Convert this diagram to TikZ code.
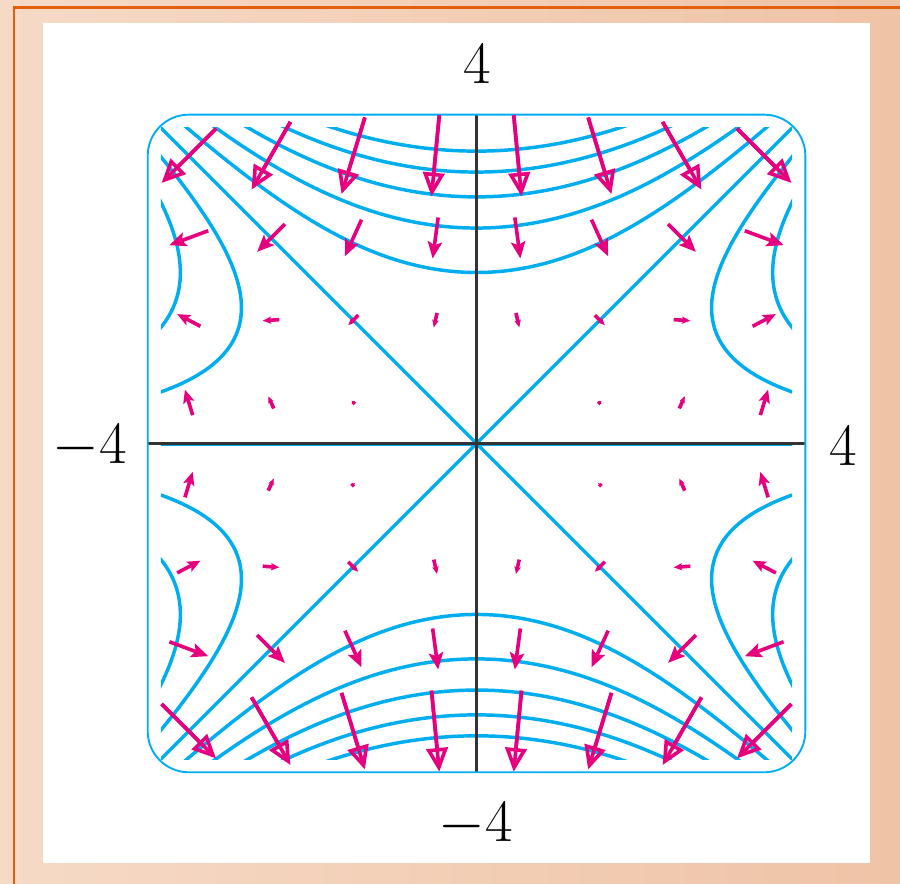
\documentclass[tikz,border=0pt]{standalone}
\usetikzlibrary{arrows.meta}
\definecolor{cy}{HTML}{00AEEF}
\definecolor{mg}{HTML}{E6007E}
\definecolor{org}{HTML}{E2600C}
\definecolor{peachL}{HTML}{F6DAC6}
\definecolor{peachR}{HTML}{EFC3A6}
\definecolor{axisgray}{HTML}{333333}
\tikzset{
  curve/.style={cy, line width=1.2pt},
  frame/.style={cy, line width=0.65pt, rounded corners=0.5cm},
  axisline/.style={axisgray, line width=0.75pt},
  vec/.style={mg, line width=1.25pt},
  lab/.style={inner sep=0pt, font=\fontsize{20}{24}\selectfont},
}
\begin{document}
\begin{tikzpicture}
\useasboundingbox (-5.797,-5.359) rectangle (5.152,5.395);
\shade[left color=peachL, right color=peachR] (-5.797,-5.359) rectangle (5.152,5.395);
\draw[org, line width=0.75pt] (-5.626,-5.4) -- (-5.626,5.304) -- (5.2,5.304);
\fill[white] (-5.274,-5.103) rectangle (4.787,5.116);

% level curves of f(x,y) = x^2 y - y^3
\begin{scope}
\clip (-3.84,-3.84) rectangle (3.84,3.84);
\draw[curve] (-4,-4) -- (4,4);
\draw[curve] (-4,4) -- (4,-4);
\draw[curve] (-4,-0.015) -- (4,-0.015);
\foreach \k in {9,18,27,36,45}{
  \pgfmathsetmacro\yo{\k^(1/3)}
  \pgfmathsetmacro\U{sqrt(4.1-\yo)}
  \draw[curve] plot[domain=-\U:\U, samples=81, smooth, variable=\t]
    ({\t*sqrt((3*\yo*\yo+3*\yo*\t*\t+\t*\t*\t*\t)/(\yo+\t*\t))},{\yo+\t*\t});
  \draw[curve] plot[domain=-\U:\U, samples=81, smooth, variable=\t]
    ({\t*sqrt((3*\yo*\yo+3*\yo*\t*\t+\t*\t*\t*\t)/(\yo+\t*\t))},{-\yo-\t*\t});
}
\foreach \k/\a/\b in {9/0.45/3.8, 18/1.2/3.2}{
  \draw[curve] plot[domain=\a:\b, samples=70, smooth, variable=\t] ({-sqrt(\k/\t+\t*\t)},{\t});
  \draw[curve] plot[domain=\a:\b, samples=70, smooth, variable=\t] ({sqrt(\k/\t+\t*\t)},{\t});
  \draw[curve] plot[domain=\a:\b, samples=70, smooth, variable=\t] ({-sqrt(\k/\t+\t*\t)},{-\t});
  \draw[curve] plot[domain=\a:\b, samples=70, smooth, variable=\t] ({sqrt(\k/\t+\t*\t)},{-\t});
}
\end{scope}

% axes and frame
\draw[axisline] (-4,0) -- (4,0);
\draw[axisline] (0,-4) -- (0,4);
\draw[frame] (-4,-4) rectangle (4,4);

% gradient field (2xy, x^2-3y^2)
\foreach \x in {-3.5,-2.5,...,3.5}{
 \foreach \y in {-3.5,-2.5,...,3.5}{
  \pgfmathsetmacro\fu{2*\x*\y}
  \pgfmathsetmacro\fv{\x*\x-3*\y*\y}
  \pgfmathsetmacro\m{sqrt(\fu*\fu+\fv*\fv)}
  \pgfmathsetmacro\hl{min(5.8,0.38*\m)}
  \pgfmathsetmacro\hw{0.85*\hl}
  \pgfmathsetmacro\hi{0.2*\hl}
  \coordinate (T) at ({\x-0.0135*\fu},{\y-0.0135*\fv});
  \coordinate (H) at ({\x+0.0135*\fu},{\y+0.0135*\fv});
  \ifdim\m pt>25pt
    \draw[vec, shorten >=1.5pt] (T) -- (H);
    \draw[vec, -{Triangle[open, length=8.2pt, width=7.4pt]}] (T) -- (H);
  \else\ifdim\m pt>1pt
    \draw[vec, -{Stealth[length=\hl pt, width=\hw pt, inset=\hi pt]}] (T) -- (H);
  \fi\fi
 }
}

% labels
\node[lab] (ltop) at (0.006,4.611) {$4$};
\node[lab] (lbot) at (-0.012,-4.641) {$-4$};
\node[lab] (lleft) at (-4.702,-0.036) {$-4$};
\node[lab] (lright) at (4.459,-0.036) {$4$};
\end{tikzpicture}
\end{document}
